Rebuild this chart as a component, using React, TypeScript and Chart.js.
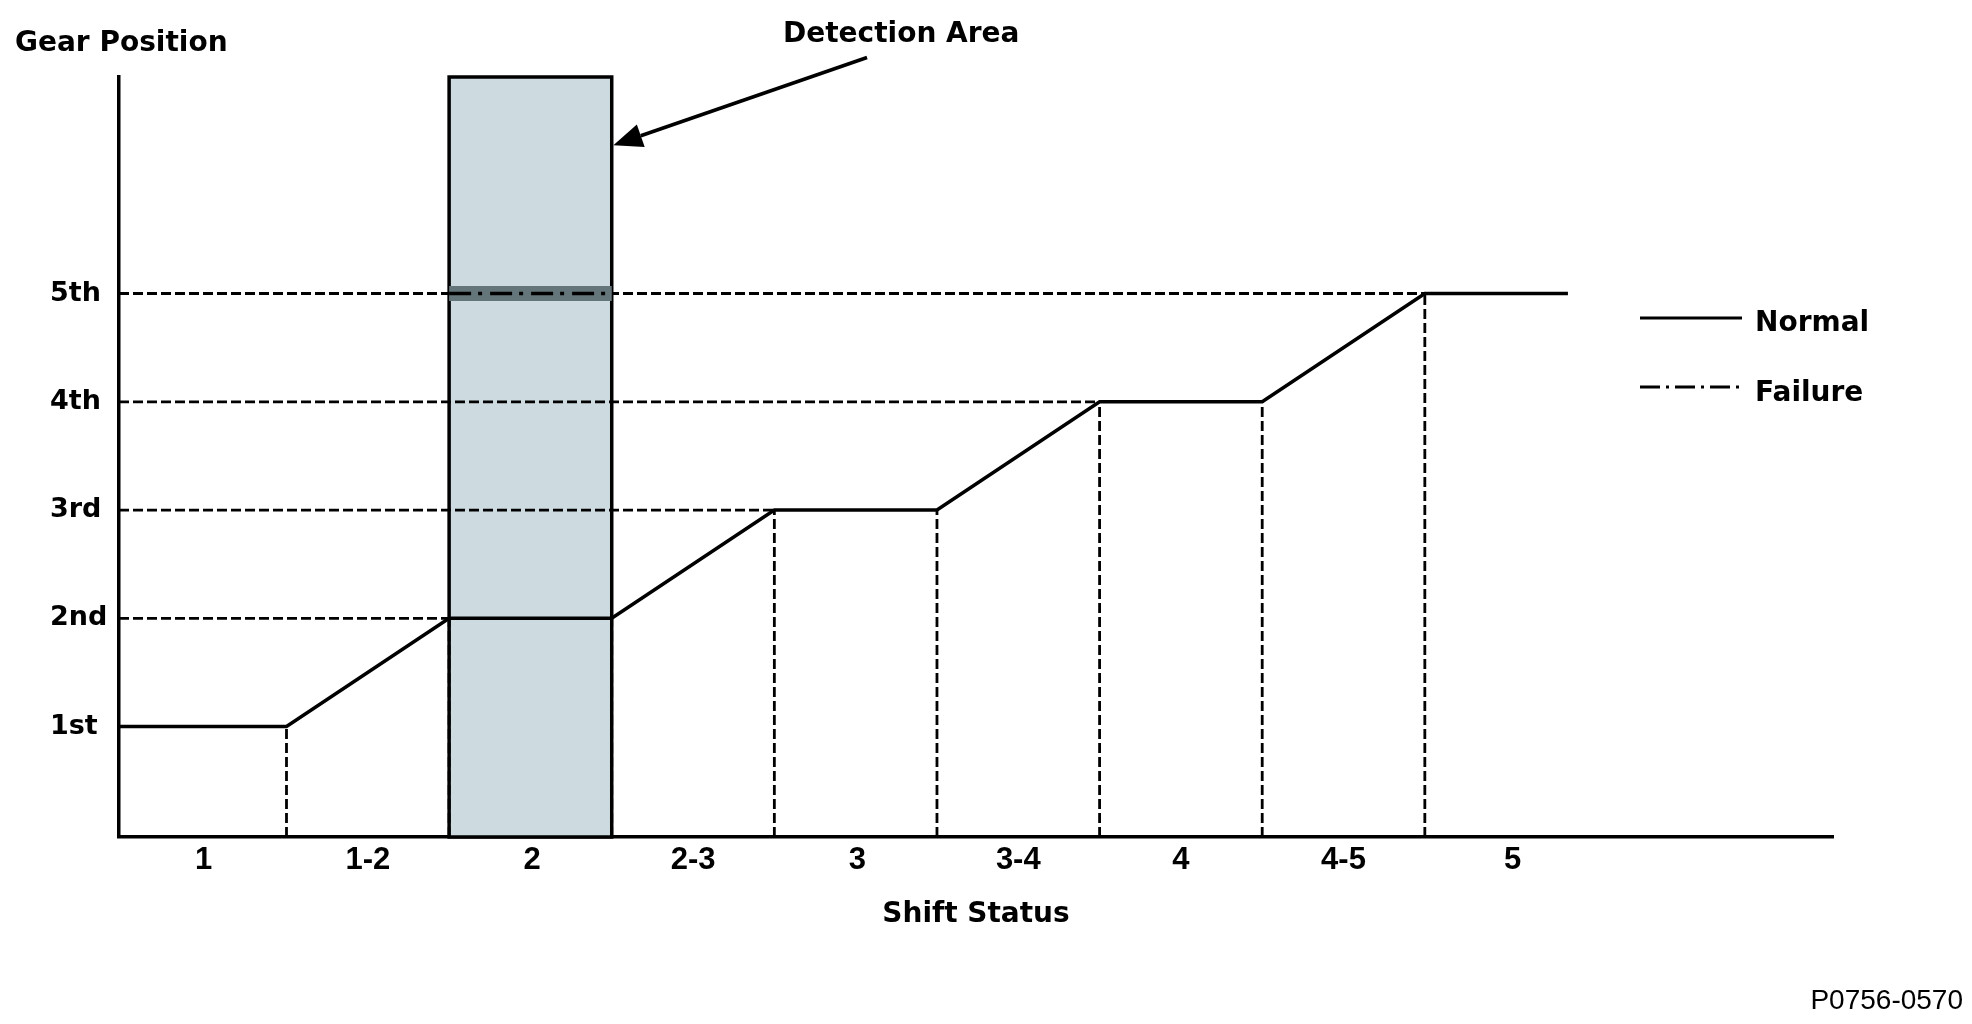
import React, { useEffect, useRef } from 'react';
import { Chart, registerables } from 'chart.js';

Chart.register(...registerables);

// ---- data ----
const shiftLabels = ['1', '1-2', '2', '2-3', '3', '3-4', '4', '4-5', '5'];
const shiftLabelPos = [0.49, 1.5, 2.51, 3.5, 4.51, 5.5, 6.5, 7.5, 8.54];
const gearLabels = ['1st', '2nd', '3rd', '4th', '5th'];
const gearValues = [1, 2, 3, 4, 5];
const normalX = [-0.03, 1, 2, 3, 4, 5, 6, 7, 8, 8.88];
const normalY = [1, 1, 2, 2, 3, 3, 4, 4, 5, 5];
const failureX = [2, 3];
const failureY = [5, 5];
const detectionX = [2, 3];
const detectionY = [-0.02, 7];
const arrowFrom = [4.57, 7.18];
const arrowTo = [3.01, 6.37];
const detectionLabelPos = [4.78, 7.4];

const X_MIN = -0.03;
const X_MAX = 10.51;
const Y_MIN = -0.02;
const Y_MAX = 7;

const BOLD = 'bold 28px "DejaVu Sans"';

export default function App() {
  const ref = useRef<HTMLCanvasElement>(null);

  useEffect(() => {
    const canvas = ref.current;
    if (!canvas) return;

    const normalData = normalX.map((x, i) => ({ x, y: normalY[i] }));
    const failureData = failureX.map((x, i) => ({ x, y: failureY[i] }));

    // guide (dashed) segments derived from the normal line
    const guides: any[] = [];
    normalX.forEach((x, i) => {
      if (i > 0 && normalY[i] > normalY[i - 1]) {
        guides.push([{ x: X_MIN, y: normalY[i] }, { x, y: normalY[i] }]);
      }
      if (i > 0 && i < normalX.length - 1) {
        guides.push([{ x, y: Y_MIN }, { x, y: normalY[i] }]);
      }
    });

    const guideSets = guides.map((d) => ({
      label: '_guide',
      data: d,
      borderColor: '#000',
      borderWidth: 2.8,
      borderDash: [10, 4],
      pointRadius: 0,
      fill: false,
    }));

    const boxPlugin = {
      id: 'detectionBox',
      beforeDatasetsDraw(chart: any) {
        const { ctx } = chart;
        const xs = chart.scales.x;
        const ys = chart.scales.y;
        const l = xs.getPixelForValue(detectionX[0]);
        const r = xs.getPixelForValue(detectionX[1]);
        const t = ys.getPixelForValue(detectionY[1]);
        const b = ys.getPixelForValue(detectionY[0]);
        ctx.save();
        ctx.fillStyle = '#cddbe1';
        ctx.fillRect(l, t, r - l, b - t);
        ctx.lineWidth = 3.5;
        ctx.strokeStyle = '#000';
        ctx.strokeRect(l, t, r - l, b - t);
        ctx.restore();
      },
      afterDraw(chart: any) {
        const { ctx } = chart;
        const xs = chart.scales.x;
        const ys = chart.scales.y;
        ctx.save();
        // arrow
        const x1 = xs.getPixelForValue(arrowFrom[0]);
        const y1 = ys.getPixelForValue(arrowFrom[1]);
        const x2 = xs.getPixelForValue(arrowTo[0]);
        const y2 = ys.getPixelForValue(arrowTo[1]);
        const ang = Math.atan2(y2 - y1, x2 - x1);
        const hl = 29;
        const hw = 12;
        const bx = x2 - hl * Math.cos(ang);
        const by = y2 - hl * Math.sin(ang);
        ctx.strokeStyle = '#000';
        ctx.lineWidth = 3.5;
        ctx.beginPath();
        ctx.moveTo(x1, y1);
        ctx.lineTo(bx, by);
        ctx.stroke();
        ctx.fillStyle = '#000';
        ctx.beginPath();
        ctx.moveTo(x2, y2);
        ctx.lineTo(bx - hw * Math.sin(ang), by + hw * Math.cos(ang));
        ctx.lineTo(bx + hw * Math.sin(ang), by - hw * Math.cos(ang));
        ctx.closePath();
        ctx.fill();

        // texts
        ctx.fillStyle = '#000';
        ctx.font = BOLD;
        ctx.textBaseline = 'alphabetic';
        ctx.textAlign = 'center';
        ctx.fillText(
          'Detection Area',
          xs.getPixelForValue(detectionLabelPos[0]),
          ys.getPixelForValue(detectionLabelPos[1]) + 8
        );
        ctx.textAlign = 'left';
        ctx.fillText('Gear Position', 15, 51);

        // legend
        const items = chart.data.datasets.filter((d: any) => d.label && d.label[0] !== '_');
        const legendY = [318, 387];
        const textY = [331, 401];
        items.forEach((d: any, i: number) => {
          ctx.beginPath();
          ctx.lineWidth = 3;
          ctx.strokeStyle = '#000';
          ctx.setLineDash(d.label === 'Failure' ? [20, 6, 3, 6] : []);
          ctx.moveTo(1640, legendY[i]);
          ctx.lineTo(1742, legendY[i]);
          ctx.stroke();
          ctx.setLineDash([]);
          ctx.fillText(d.label, 1755, textY[i]);
        });

        // figure id
        ctx.font = '28px "Liberation Sans"';
        ctx.textAlign = 'right';
        ctx.fillText('P0756-0570', 1963, 1009);
        ctx.restore();
      },
    };

    const chart = new Chart(canvas, {
      type: 'line',
      data: {
        datasets: [
          {
            label: 'Normal',
            data: normalData,
            borderColor: '#000',
            borderWidth: 3.5,
            pointRadius: 0,
            fill: false,
          },
          {
            label: 'Failure',
            data: failureData,
            borderColor: '#000',
            borderWidth: 3.5,
            borderDash: [22, 7, 4, 8],
            pointRadius: 0,
            fill: false,
          },
          {
            label: '_band',
            data: failureData,
            borderColor: '#65767b',
            borderWidth: 15,
            pointRadius: 0,
            fill: false,
          },
          ...guideSets,
        ] as any,
      },
      options: {
        responsive: false,
        animation: false,
        layout: { padding: { left: 50, right: 139, top: 77, bottom: 0 } },
        plugins: {
          legend: { display: false },
          tooltip: { enabled: false },
          title: { display: false },
        },
        scales: {
          x: {
            type: 'linear',
            min: X_MIN,
            max: X_MAX,
            bounds: 'data',
            grid: { display: false, drawTicks: false },
            border: { display: true, color: '#000', width: 3.5 },
            afterFit: (s: any) => {
              s.height = 187;
            },
            afterBuildTicks: (s: any) => {
              s.ticks = shiftLabelPos.map((v) => ({ value: v }));
            },
            ticks: {
              autoSkip: false,
              maxRotation: 0,
              padding: 5,
              color: '#000',
              font: { family: '"Liberation Sans"', weight: 'bold', size: 31 },
              callback: (_v: any, i: number) => shiftLabels[i],
            },
            title: {
              display: true,
              text: 'Shift Status',
              color: '#000',
              font: { family: '"DejaVu Sans"', weight: 'bold', size: 28 },
              padding: { top: 0, bottom: 92 },
            },
          },
          y: {
            type: 'linear',
            min: Y_MIN,
            max: Y_MAX,
            bounds: 'data',
            grid: { display: false, drawTicks: false },
            border: { display: true, color: '#000', width: 3.5 },
            afterFit: (s: any) => {
              s.width = 69;
            },
            afterBuildTicks: (s: any) => {
              s.ticks = gearValues.map((v) => ({ value: v }));
            },
            ticks: {
              crossAlign: 'far',
              color: '#000',
              font: { family: '"DejaVu Sans"', weight: 'bold', size: 27 },
              callback: (_v: any, i: number) => gearLabels[i],
            },
          },
        },
      } as any,
      plugins: [boxPlugin],
    });

    return () => chart.destroy();
  }, []);

  return (
    <div style={{ position: 'absolute', left: 0, top: 0, width: 1972, height: 1024, background: '#fff' }}>
      <canvas ref={ref} width={1972} height={1024} style={{ display: 'block' }} />
    </div>
  );
}
